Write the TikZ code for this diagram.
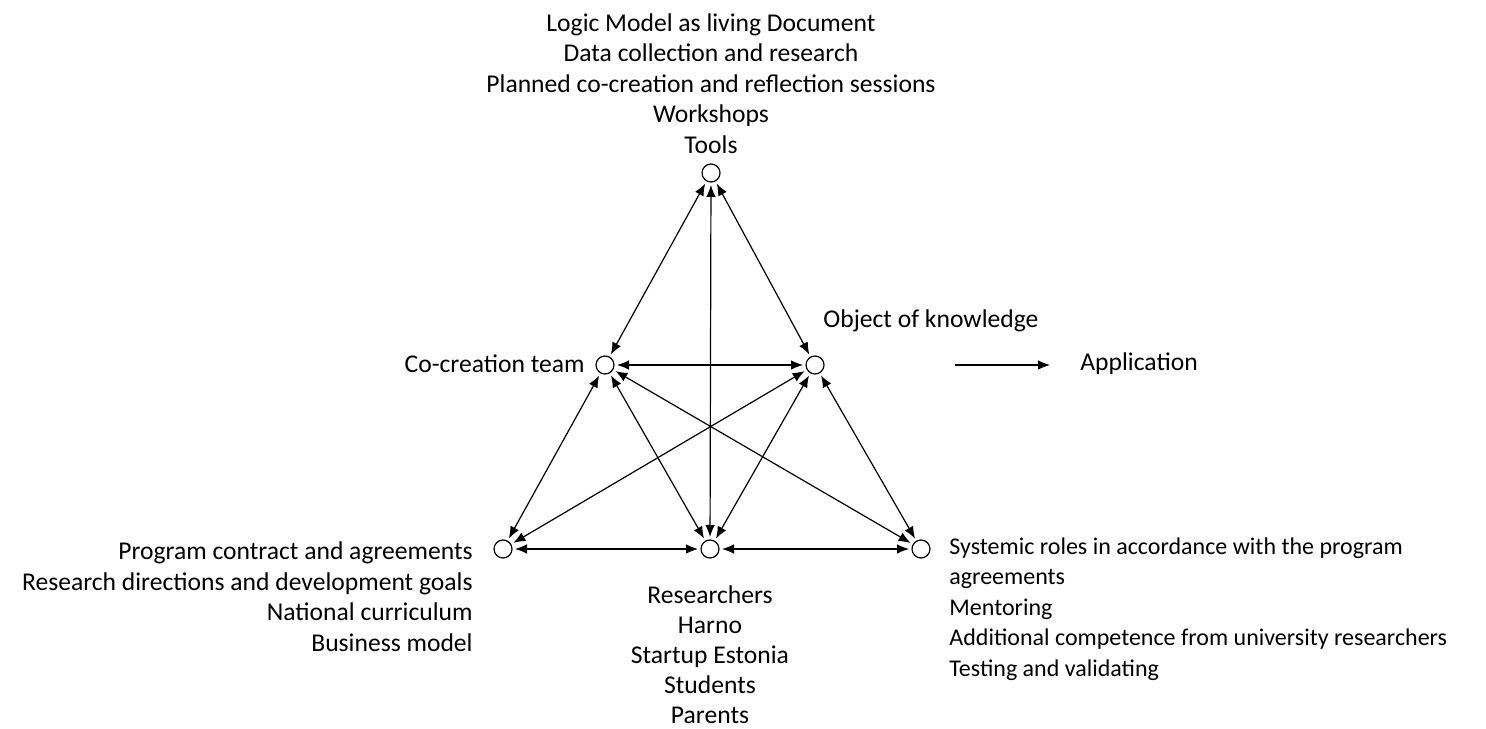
\documentclass[tikz,border=0pt]{standalone}
\usepackage{fontspec}
\setmainfont{Carlito}
\usetikzlibrary{arrows.meta, positioning}
\tikzset{hubnode/.style={circle, draw=black, line width=0.6pt, minimum size=9pt, inner sep=0pt},
         listnode/.style={inner sep=0pt, font=\fontsize{12.8pt}{15.25pt}\selectfont}}

\begin{document}
\begin{tikzpicture}[
        line join=bevel,
        link/.style={{Latex[length=6pt,width=4.8pt]}-{Latex[length=6pt,width=4.8pt]}, line width=0.6pt, shorten <=1.2pt, shorten >=1.2pt},
        oneway/.style={-{Latex[length=6pt,width=4.8pt]}, line width=0.6pt}
    ]
        \useasboundingbox (0pt, 0pt) rectangle (743pt, 364pt);
        % Circles
        \node[hubnode] (top) at (355.5pt, 277.5pt) {};
        \node[hubnode] (team) at (302.5pt, 181.5pt) {};
        \node[hubnode] (object) at (407.5pt, 181.5pt) {};
        \node[hubnode] (contract) at (251.5pt, 89.5pt) {};
        \node[hubnode] (actors) at (355pt, 89.5pt) {};
        \node[hubnode] (roles) at (460.5pt, 89.5pt) {};
        % Links
        \foreach \a/\b in {
            top/team,
            top/object,
            top/actors,
            team/object,
            team/contract,
            team/actors,
            team/roles,
            object/contract,
            object/actors,
            object/roles,
            contract/actors,
            actors/roles} {
            \draw[link] (\a) -- (\b);
        }
        % Application
        \coordinate (appstart) at (477.5pt, 181.5pt);
        \coordinate (append) at (525pt, 181.5pt);
        \draw[oneway] (appstart) -- (append);
        \node[listnode, anchor=base west] (application) at (540pt, 178.5pt) {Application};
        % Labels
        \node[listnode, align=center, anchor=south] (toplist) at (355.5pt, 287pt) {Logic Model as living Document\\Data collection and research\\Planned co-creation and reflection sessions\\Workshops\\Tools};
        \node[listnode, anchor=east] (teamlabel) at (292.5pt, 182pt) {Co-creation team};
        \node[listnode, anchor=base west] (objectlabel) at (411.5pt, 200pt) {Object of knowledge};
        \node[listnode, align=right, anchor=north east] (contractlist) at (236.5pt, 93.25pt) {Program contract and agreements\\Research directions and development goals\\National curriculum\\Business model};
        \node[listnode, align=center, anchor=north, font=\fontsize{12.8pt}{15pt}\selectfont] (actorslist) at (355pt, 71.5pt) {Researchers\\Harno\\Startup Estonia\\Students\\Parents};
        \node[listnode, align=left, anchor=north west, font=\fontsize{12pt}{15.25pt}\selectfont] (roleslist) at (474.5pt, 95.5pt) {Systemic roles in accordance with the program\\agreements\\Mentoring\\Additional competence from university researchers\\Testing and validating};
    \end{tikzpicture}
\end{document}
